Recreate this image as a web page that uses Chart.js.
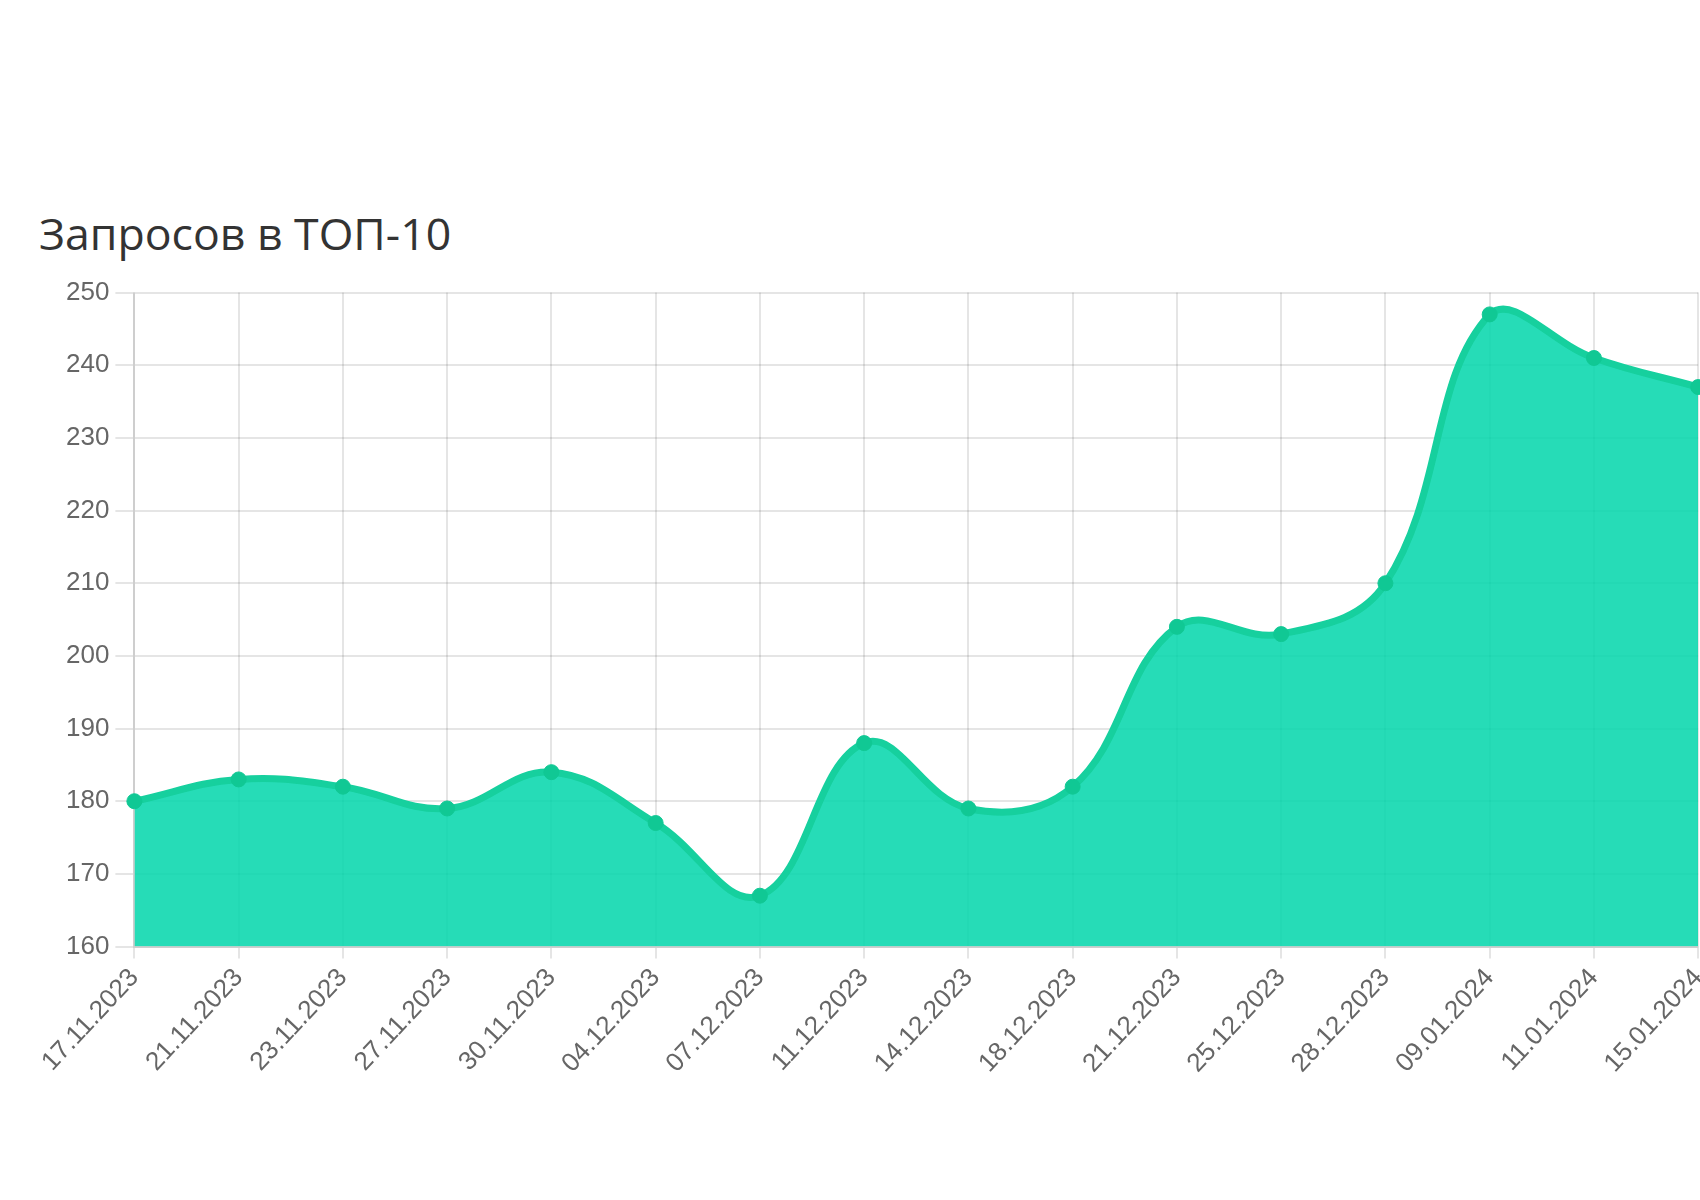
<!DOCTYPE html>
<html>
<head>
<meta charset="utf-8">
<script src="https://cdn.jsdelivr.net/npm/chart.js@4.4.1/dist/chart.umd.min.js"></script>
<style>
  body { margin: 0; background: #fff; overflow: hidden; width: 1700px; height: 1200px; position: relative; }
  .title {
    position: absolute; left: 39px; top: 211px;
    font-family: "Open Sans", sans-serif; font-size: 44.6px; line-height: 1;
    color: #333;
  }
  .chart-box { position: absolute; left: 0; top: 271px; width: 1725px; height: 812px; }
</style>
</head>
<body>
<div class="title">Запросов в ТОП-10</div>
<div class="chart-box"><canvas id="topChart"></canvas></div>
<script>
  const dates = [
    '17.11.2023', '21.11.2023', '23.11.2023', '27.11.2023', '30.11.2023',
    '04.12.2023', '07.12.2023', '11.12.2023', '14.12.2023', '18.12.2023',
    '21.12.2023', '25.12.2023', '28.12.2023', '09.01.2024', '11.01.2024',
    '15.01.2024',
  ];

  const topTen = [180, 183, 182, 179, 184, 177, 167, 188, 179, 182, 204, 203, 210, 247, 241, 237];

  const yMin = 160;
  const yMax = 250;
  const yStep = 10;

  const gridColor = 'rgba(0, 0, 0, 0.1)';
  const tickFont = { family: 'Arial, "Liberation Sans", sans-serif', size: 26 };

  const ctx = document.getElementById('topChart').getContext('2d');
  const chart = new Chart(ctx, {
    type: 'line',
    data: {
      labels: dates,
      datasets: [{
        label: 'Запросов в ТОП-10',
        data: topTen,
        fill: true,
        backgroundColor: 'rgba(0, 214, 170, 0.85)',
        borderColor: 'rgb(22, 208, 158)',
        borderWidth: 7,
        pointRadius: 7.5,
        pointBackgroundColor: 'rgb(16, 200, 148)',
        pointBorderColor: 'rgb(16, 200, 148)',
        pointBorderWidth: 1,
        tension: 0.4,
      }]
    },
    options: {
      responsive: true,
      maintainAspectRatio: false,
      animation: false,
      layout: {
        padding: { left: 60, top: 4, right: 0, bottom: 0 },
      },
      plugins: {
        legend: { display: false },
        tooltip: { enabled: false },
      },
      scales: {
        x: {
          grid: { color: gridColor, lineWidth: 2, tickLength: 12 },
          border: { color: gridColor, width: 2 },
          ticks: {
            color: '#666',
            font: tickFont,
            minRotation: 47,
            maxRotation: 47,
            autoSkip: false,
            padding: 4,
          },
        },
        y: {
          min: yMin,
          max: yMax,
          grid: { color: gridColor, lineWidth: 2, tickLength: 19 },
          border: { color: gridColor, width: 2 },
          ticks: {
            stepSize: yStep,
            color: '#666',
            font: tickFont,
            padding: 6,
          },
        },
      },
    }
  });
</script>
</body>
</html>
